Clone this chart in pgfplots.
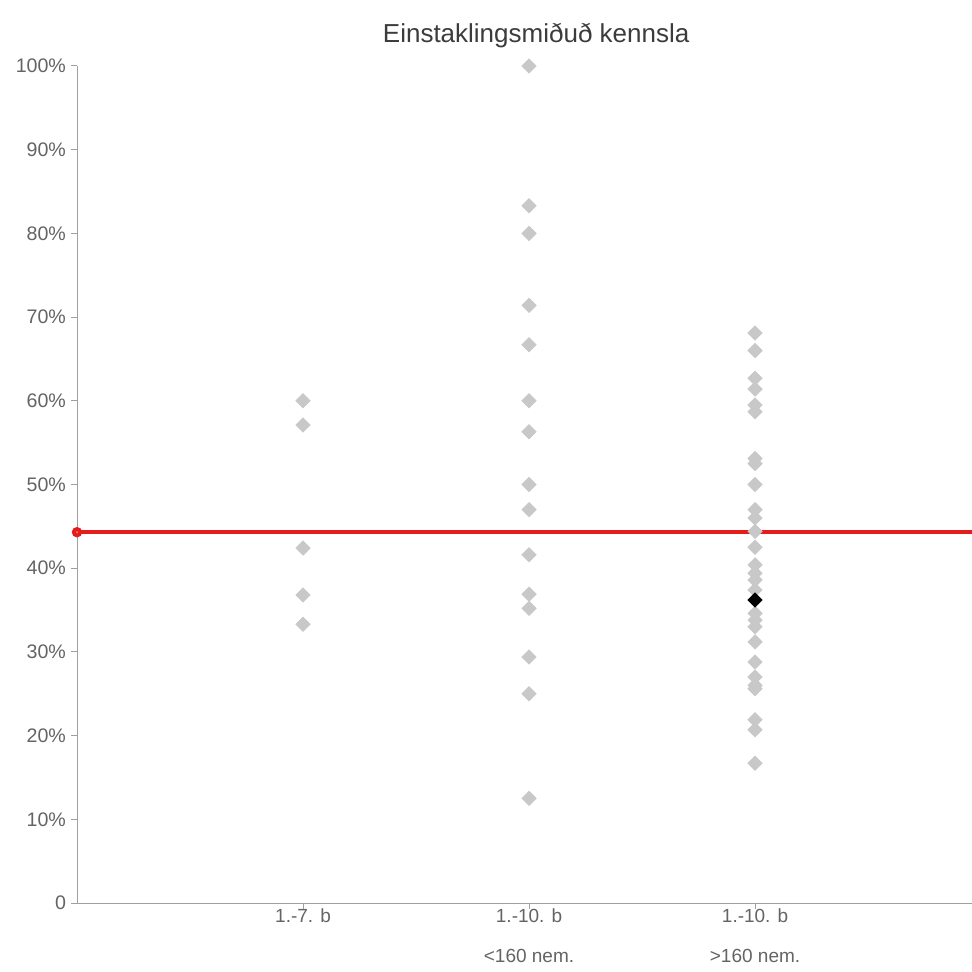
\documentclass[border=0pt]{standalone}
\usepackage{pgfplots}
\pgfplotsset{compat=1.18}
\usepackage{fontspec}
\setmainfont{Liberation Sans}
\definecolor{ptgray}{RGB}{200,200,200}
\definecolor{axgray}{RGB}{160,160,160}
\definecolor{txtgray}{RGB}{100,100,100}
\definecolor{avgred}{RGB}{228,28,28}
\begin{document}
\begin{tikzpicture}
\path[use as bounding box] (-38.5pt,-34pt) rectangle (447.5pt,451.5pt);
\begin{axis}[
  at={(0,0)}, anchor=south west,
  scale only axis, width=447.5pt, height=418.5pt,
  xmin=0, xmax=3.96, ymin=0, ymax=100,
  axis x line*=bottom, axis y line*=left,
  axis line style={axgray, line width=0.5pt},
  x axis line style={-}, y axis line style={-},
  xtick={1,2,3},
  xticklabels={{1.-7. b},{1.-10. b\\[9pt]<160 nem.},{1.-10. b\\[9pt]>160 nem.}},
  xticklabel style={align=center, anchor=north, yshift=3.5pt, font=\fontsize{9.5pt}{11pt}\selectfont, text=txtgray},
  ytick={0,10,20,30,40,50,60,70,80,90,100},
  yticklabels={0,10\%,20\%,30\%,40\%,50\%,60\%,70\%,80\%,90\%,100\%},
  yticklabel style={font=\fontsize{9.8pt}{11pt}\selectfont, text=txtgray, xshift=1pt},
  tick style={axgray, line width=0.5pt},
  tick align=outside, major tick length=3pt,
  /pgf/number format/assume math mode=true,
  clip=false,
  every axis plot/.append style={mark options={rotate=45}},
]
\addplot[only marks, mark=square*, mark size=2.5pt, color=ptgray] coordinates {
(1,60.0) (1,57.1) (1,42.4) (1,36.8) (1,33.3)
};
\addplot[only marks, mark=square*, mark size=2.5pt, color=ptgray] coordinates {
(2,100) (2,83.3) (2,80.0) (2,71.4) (2,66.7) (2,60.0) (2,56.3) (2,50.0) (2,47.0)
(2,41.6) (2,36.9) (2,35.2) (2,29.4) (2,25.0) (2,12.5)
};
\addplot[only marks, mark=square*, mark size=2.5pt, color=ptgray] coordinates {
(3,68.1) (3,66.0) (3,62.7) (3,61.4) (3,59.5) (3,58.7) (3,53.1) (3,52.5) (3,50.0)
(3,47.0) (3,46.0) (3,44.4) (3,42.5) (3,40.4) (3,39.4) (3,38.6) (3,37.4)
(3,34.6) (3,33.8) (3,33.0) (3,31.2) (3,28.8) (3,27.0) (3,26.0) (3,25.6)
(3,21.9) (3,20.7) (3,16.7)
};
\addplot[avgred, line width=1.9pt, mark=*, mark size=1.6pt, mark indices={1}, mark options={fill=avgred!60, draw=none}] coordinates {(0,44.3) (3.96,44.3)};
\addplot[only marks, mark=square*, mark size=2.5pt, color=black] coordinates {(3,36.2)};
\node[font=\fontsize{13pt}{15pt}\selectfont, text={rgb,255:red,60;green,60;blue,60}] at (rel axis cs:0.513,1) [yshift=15pt] {Einstaklingsmiðuð kennsla};
\end{axis}
\end{tikzpicture}
\end{document}
